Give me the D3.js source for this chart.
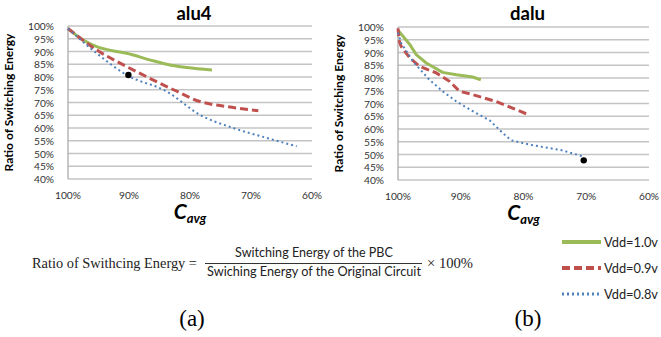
<!DOCTYPE html>
<html>
<head>
<meta charset="utf-8">
<script src="https://cdn.jsdelivr.net/npm/d3@7"></script>
<style>
  body { margin: 0; background: #fff; }
  svg { display: block; }
</style>
</head>
<body>
<svg id="chart" width="661" height="337"></svg>
<script>
// values: [Cavg %, ratio %]
const alu4Vdd10 = [[100, 99], [97.5, 94.5], [95.3, 91.9], [92.5, 90.2], [90.4, 89.3], [86.6, 86.7], [83.3, 84.7], [80.5, 83.7], [76.4, 82.7]];
const alu4Vdd09 = [[100, 99], [95.3, 90.6], [90.4, 84.1], [86.6, 79.5], [82.7, 75.0], [78.4, 70.4], [74, 68.4], [68.8, 66.8]];
const alu4Vdd08 = [[100, 99], [95.3, 89.3], [90.4, 80.8], [83.8, 74.3], [78.4, 65.2], [72.9, 60], [67.4, 56.1], [62.5, 52.8]];
const alu4Dot = [90.1, 80.8];

const daluVdd10 = [[100, 98.7], [98.1, 93.1], [97.1, 89.2], [95.5, 85.9], [92.9, 82.2], [90.7, 81.3], [88.1, 80.4], [86.8, 79.3]];
const daluVdd09 = [[100, 99.5], [99.8, 94.5], [99.5, 92.4], [98.1, 87.8], [96.6, 84.6], [93.9, 82.0], [91.8, 78.7], [90.2, 74.8], [88.1, 73.5], [84.4, 70.8], [79.2, 65.6]];
const daluVdd08 = [[100, 97.8], [99.5, 93.7], [97.6, 86.5], [95.0, 79.3], [92.9, 74.8], [90.7, 70.8], [87.6, 66.3], [85.4, 63.4], [83.3, 58.4], [82.0, 55.6], [79.1, 53.9], [73.8, 51.6], [70.6, 49.3]];
const daluDot = [70.4, 47.7];

const xTicks = [100, 90, 80, 70, 60];
const yTicks = [40, 45, 50, 55, 60, 65, 70, 75, 80, 85, 90, 95, 100];
const seriesNames = ["Vdd=1.0v", "Vdd=0.9v", "Vdd=0.8v"];

const styles = [
  { color: "#9bbb59", width: 3, dash: null },
  { color: "#c0504d", width: 3, dash: "8,4" },
  { color: "#4f81bd", width: 2, dash: "2,3" }
];

const svg = d3.select("#chart");
const sans = "Lato, 'Open Sans', sans-serif";
const serif = "'Liberation Serif', 'Times New Roman', serif";

// shrink/grow a text's font so it spans about the given width
function fit(sel, width) {
  const fs = parseFloat(sel.attr("font-size"));
  const w = sel.node().getComputedTextLength();
  sel.attr("font-size", (fs * width / w).toFixed(2));
  return sel;
}

// font size for tick labels so "100%" is ~26px wide
const probe = svg.append("text").attr("font-family", sans).attr("font-size", 12).text("100%");
const tickFs = 12 * 26 / probe.node().getComputedTextLength();
probe.remove();

function drawPanel(title, series, dot, left, right, top, bottom, curve) {
  const x = d3.scaleLinear().domain([100, 60]).range([left, right]);
  const y = d3.scaleLinear().domain([40, 100]).range([bottom, top]);
  const g = svg.append("g");

  // gridlines
  g.selectAll(".grid").data(yTicks).enter().append("line")
    .attr("x1", left).attr("x2", right)
    .attr("y1", d => y(d)).attr("y2", d => y(d))
    .attr("stroke", "#c4c4c4").attr("stroke-width", 1.3);
  g.append("line")
    .attr("x1", left).attr("x2", left).attr("y1", top).attr("y2", bottom)
    .attr("stroke", "#aaa").attr("stroke-width", 1.3);

  // y labels
  g.selectAll(".yl").data(yTicks).enter().append("text")
    .attr("x", left - 14).attr("y", d => y(d) + 4)
    .attr("text-anchor", "end")
    .attr("font-family", sans).attr("font-size", tickFs).attr("fill", "#333")
    .text(d => d + "%");

  // x labels
  g.selectAll(".xl").data(xTicks).enter().append("text")
    .attr("x", d => x(d)).attr("y", bottom + 20)
    .attr("text-anchor", "middle")
    .attr("font-family", sans).attr("font-size", tickFs).attr("fill", "#333")
    .text(d => d + "%");

  // title
  fit(g.append("text")
    .attr("x", (left + right) / 2 + 4).attr("y", 20)
    .attr("text-anchor", "middle")
    .attr("font-family", sans).attr("font-weight", "bold").attr("font-size", 17)
    .text(title), 35);

  // y title
  fit(g.append("text")
    .attr("transform", `translate(${left - 55},${(top + bottom) / 2}) rotate(-90)`)
    .attr("text-anchor", "middle")
    .attr("font-family", sans).attr("font-weight", "bold").attr("font-size", 11.5)
    .text("Ratio of Switching Energy"), 138);

  // x title
  const xt = g.append("text")
    .attr("x", (left + right) / 2).attr("y", bottom + 40)
    .attr("text-anchor", "middle")
    .attr("font-family", sans).attr("font-weight", "bold").attr("font-style", "italic");
  xt.append("tspan").attr("font-size", 21).text("C");
  xt.append("tspan").attr("font-size", 13).attr("dy", 4).text("avg");

  const line = d3.line().x(d => x(d[0])).y(d => y(d[1])).curve(curve);
  series.forEach((s, i) => {
    g.append("path").datum(s)
      .attr("d", line)
      .attr("fill", "none")
      .attr("stroke", styles[i].color)
      .attr("stroke-width", styles[i].width)
      .attr("stroke-dasharray", styles[i].dash);
  });

  g.append("circle")
    .attr("cx", x(dot[0])).attr("cy", y(dot[1])).attr("r", 3.2)
    .attr("fill", "#000");
}

drawPanel("alu4", [alu4Vdd10, alu4Vdd09, alu4Vdd08], alu4Dot, 68, 312, 26, 179, d3.curveMonotoneX);
drawPanel("dalu", [daluVdd10, daluVdd09, daluVdd08], daluDot, 398, 649, 27, 180, d3.curveLinear);

// formula
fit(svg.append("text").attr("x", 32).attr("y", 268)
  .attr("font-family", serif).attr("font-size", 14.5).attr("fill", "#222")
  .text("Ratio of Swithcing Energy ="), 165);
svg.append("line").attr("x1", 205).attr("x2", 422).attr("y1", 263.5).attr("y2", 263.5)
  .attr("stroke", "#333").attr("stroke-width", 1);
fit(svg.append("text").attr("x", 314).attr("y", 257).attr("text-anchor", "middle")
  .attr("font-family", sans).attr("font-size", 12.5).attr("fill", "#222")
  .text("Switching Energy of the PBC"), 158);
fit(svg.append("text").attr("x", 314).attr("y", 276).attr("text-anchor", "middle")
  .attr("font-family", sans).attr("font-size", 12.5).attr("fill", "#222")
  .text("Swiching Energy of the Original Circuit"), 214);
fit(svg.append("text").attr("x", 427).attr("y", 268)
  .attr("font-family", serif).attr("font-size", 14.5).attr("fill", "#222")
  .text("× 100%"), 46);

// panel labels
svg.append("text").attr("x", 192).attr("y", 326).attr("text-anchor", "middle")
  .attr("font-family", serif).attr("font-size", 23).text("(a)");
svg.append("text").attr("x", 528).attr("y", 326).attr("text-anchor", "middle")
  .attr("font-family", serif).attr("font-size", 23).text("(b)");

// legend
const legY = [242, 268, 294];
const leg = svg.append("g");
seriesNames.forEach((name, i) => {
  leg.append("line")
    .attr("x1", 562).attr("x2", 601).attr("y1", legY[i]).attr("y2", legY[i])
    .attr("stroke", styles[i].color).attr("stroke-width", styles[i].width + 1)
    .attr("stroke-dasharray", styles[i].dash);
  fit(leg.append("text")
    .attr("x", 604).attr("y", legY[i] + 4.5)
    .attr("font-family", sans).attr("font-size", 12.5).attr("fill", "#222")
    .text(name), 54);
});
</script>
</body>
</html>
